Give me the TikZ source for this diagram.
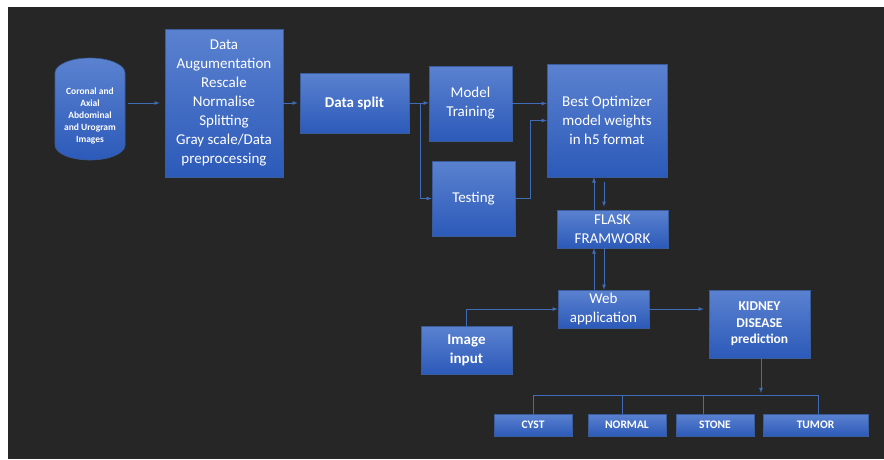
\documentclass[tikz,border=0pt]{standalone}
\usepackage{fontspec}
\setmainfont{Carlito}
\usetikzlibrary{arrows}
\usetikzlibrary{shapes}

\definecolor{bg}{HTML}{262626}
\definecolor{boxtop}{HTML}{5B82D0}
\definecolor{boxbot}{HTML}{2C5AB9}
\definecolor{boxedge}{HTML}{3A5C9A}
\definecolor{wirecol}{HTML}{3F6DB8}

\tikzset{
  blk/.style={draw=boxedge, line width=0.6pt, top color=boxtop, bottom color=boxbot,
    text=white, align=center, inner sep=0pt, font=\fontsize{15}{19}\selectfont},
  blkbold/.style={blk, font=\bfseries\fontsize{15}{19}\selectfont},
  outcome/.style={blk, minimum height=22pt, font=\bfseries\fontsize{11.5}{13}\selectfont},
  link/.style={draw=wirecol, line width=0.8pt, ->, >=latex},
  wire/.style={draw=wirecol, line width=0.8pt},
}

\begin{document}
\begin{tikzpicture}[x=1pt, y=-1pt]
    \fill[white] (0,0) rectangle (884,459);
    \fill[bg] (8,7) rectangle (884,459);
    \useasboundingbox (0,0) rectangle (884,459);

    % drum of the image store
    \path[draw=boxedge, line width=0.6pt, top color=boxtop, bottom color=boxbot]
      (55,73) arc[start angle=180, end angle=0, x radius=35pt, y radius=15pt]
      -- (125,145) arc[start angle=0, end angle=-180, x radius=35pt, y radius=15pt] -- cycle;
    \node[text=white, align=center, inner sep=0pt, minimum width=70pt,
      font=\bfseries\fontsize{9.5}{12}\selectfont] (scans) at (90,116)
      {Coronal and\\Axial\\Abdominal\\and Urogram\\Images};

    \node[blk, minimum width=118pt, minimum height=148pt] (prep) at (224,103)
      {Data\\Augumentation\\Rescale\\Normalise\\Splitting\\Gray scale/Data\\preprocessing};
    \node[blkbold, minimum width=109pt, minimum height=60pt] (split) at (354.5,103) {Data split};
    \node[blk, minimum width=83pt, minimum height=75pt] (train) at (470.5,103.5) {Model\\Training};
    \node[blk, minimum width=83pt, minimum height=75pt] (test) at (473.5,198.5) {Testing};
    \node[blk, minimum width=120pt, minimum height=113pt] (best) at (607,120.5)
      {Best Optimizer\\model weights\\in h5 format};
    \node[blk, minimum width=111pt, minimum height=38pt] (flask) at (612.5,229) {FLASK\\FRAMWORK};
    \node[blk, minimum width=91pt, minimum height=38pt] (web) at (603.5,309) {Web\\application};
    \node[blkbold, minimum width=91pt, minimum height=48pt] (image) at (466.5,350) {Image\\input};
    \node[blk, minimum width=101pt, minimum height=68pt,
      font=\bfseries\fontsize{13.5}{16.5}\selectfont] (kidney) at (759.5,324) {KIDNEY\\DISEASE\\prediction};
    \node[outcome, minimum width=78pt] (cyst) at (533,425) {CYST};
    \node[outcome, minimum width=78pt] (normal) at (627,425) {NORMAL};
    \node[outcome, minimum width=78pt] (stone) at (715,425) {STONE};
    \node[outcome, minimum width=105pt] (tumor) at (815.5,425) {TUMOR};

    \coordinate (fork) at (420,103);
    \coordinate (join) at (530,120.5);
    \coordinate (up) at (594,0);
    \coordinate (dn) at (604,0);
    \coordinate (bus) at (761,395);

    \draw[link, shorten <=3pt, shorten >=5pt] (scans.east |- prep.west) -- (prep.west);
    \draw[link, shorten >=2pt] (prep.east) -- (split.west);
    \draw[link] (split.east) -- (split.east -| train.west);
    \draw[link] (fork) |- (test.west);
    \draw[link] (train.east) -- (train.east -| best.west);
    \draw[link] (test.east) -| (join) -- (best.west);

    \draw[link] (up |- flask.north) -- (up |- best.south);
    \draw[link, shorten <=5pt, shorten >=3pt] (dn |- best.south) -- (dn |- flask.north);
    \draw[link] (up |- web.north) -- (up |- flask.south);
    \draw[link] (dn |- flask.south) -- (dn |- web.north);

    \draw[link] (image.north) |- (web.west);
    \draw[link, shorten >=5pt] (web.east) -- (web.east -| kidney.west);
    \draw[link, shorten >=2pt] (bus |- kidney.south) -- (bus);

    \draw[wire] (cyst.north |- bus) -- ([xshift=2.5pt]tumor.north |- bus);
    \draw[wire] (cyst.north) -- (cyst.north |- bus);
    \draw[wire] ([xshift=-5pt]normal.north) -- ([xshift=-5pt]normal.north |- bus);
    \draw[wire] ([xshift=-12pt]stone.north) -- ([xshift=-12pt]stone.north |- bus);
    \draw[wire] ([xshift=2.5pt]tumor.north) -- ([xshift=2.5pt]tumor.north |- bus);
\end{tikzpicture}
\end{document}
